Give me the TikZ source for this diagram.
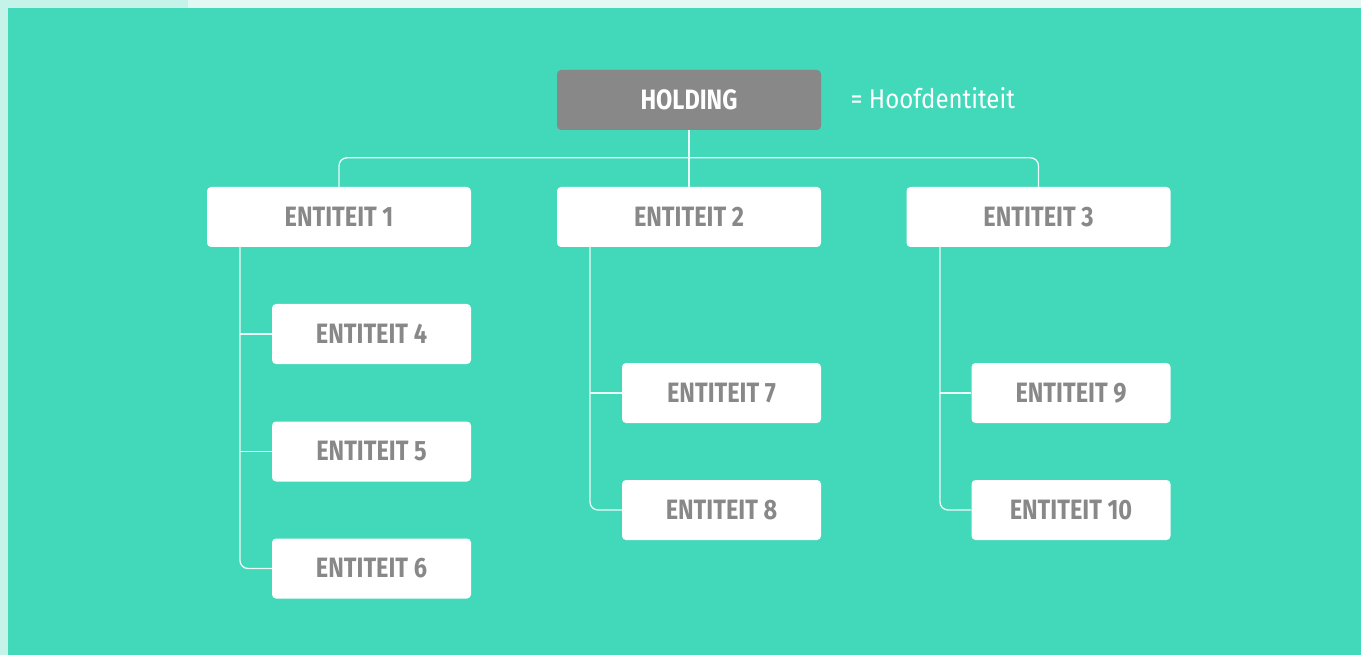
\documentclass[tikz,border=0pt]{standalone}
\usepackage{fontspec}
\setmainfont{Fira Sans}
\usetikzlibrary{calc}
\definecolor{bgmain}{HTML}{42D8BA}
\definecolor{bglight}{HTML}{C6F3E9}
\definecolor{bglighter}{HTML}{E2F8F3}
\definecolor{boxgray}{HTML}{888888}
\definecolor{linec}{HTML}{EAFBF7}
\tikzset{
  ent/.style={fill=white, rounded corners=4pt, minimum height=60pt, inner sep=0pt,
    text=boxgray, font=\fontsize{28}{30}\selectfont\bfseries},
  bigent/.style={ent, minimum width=264pt},
  smallent/.style={ent, minimum width=199pt},
  holdbox/.style={bigent, fill=boxgray, text=white},
  conn/.style={draw=linec, line width=1.3pt, rounded corners=8pt},
}
\newcommand{\nar}[1]{\scalebox{0.84}[1]{#1}}
\begin{document}
\begin{tikzpicture}[x=1pt,y=-1pt]
\useasboundingbox (0,0) rectangle (1361,655);
\fill[bglighter] (0,0) rectangle (1361,8);
\fill[bglight] (0,0) rectangle (188,8);
\fill[bglight] (0,0) rectangle (8,655);
\fill[bgmain] (8,8) rectangle (1361,655);

\node[holdbox] (H) at (689,100) {\nar{HOLDING}};
\node[anchor=west, text=white, font=\fontsize{27}{29}\selectfont] (lab) at (847,98) {\scalebox{0.89}[1]{= Hoofdentiteit}};

\node[bigent] (E1) at (339,217) {\nar{ENTITEIT 1}};
\node[bigent] (E2) at (689,217) {\nar{ENTITEIT 2}};
\node[bigent] (E3) at (1038.5,217) {\nar{ENTITEIT 3}};

\node[smallent] (E4) at (371.5,334) {\nar{ENTITEIT 4}};
\node[smallent] (E5) at (371.5,451.5) {\nar{ENTITEIT 5}};
\node[smallent] (E6) at (371.5,568.5) {\nar{ENTITEIT 6}};
\node[smallent] (E7) at (721.5,393) {\nar{ENTITEIT 7}};
\node[smallent] (E8) at (721.5,510) {\nar{ENTITEIT 8}};
\node[smallent] (E9) at (1071,393) {\nar{ENTITEIT 9}};
\node[smallent] (E10) at (1071,510) {\nar{ENTITEIT 10}};

\coordinate (b1) at (240,247);
\coordinate (b2) at (590,247);
\coordinate (b3) at (940,247);

\draw[conn] (E1.north) -- ++(0,-29) -| (E3.north);
\draw[conn] (H.south) -- (E2.north);
\draw[conn] (b1) |- (E6.west);
\draw[conn] (b1 |- E4.west) -- (E4.west);
\draw[conn] (b1 |- E5.west) -- (E5.west);
\draw[conn] (b2) |- (E8.west);
\draw[conn] (b2 |- E7.west) -- (E7.west);
\draw[conn] (b3) |- (E10.west);
\draw[conn] (b3 |- E9.west) -- (E9.west);
\end{tikzpicture}
\end{document}
